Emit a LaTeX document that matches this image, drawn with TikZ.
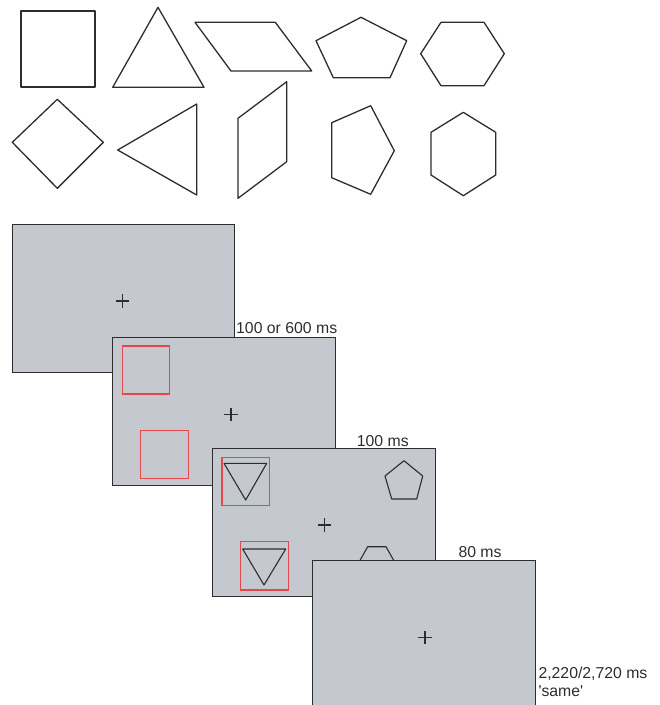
\documentclass[tikz,border=0pt]{standalone}
\usepackage{fontspec}
\setmainfont{Liberation Sans}
\newfontfamily\labelfont{Liberation Sans}
\definecolor{panel}{RGB}{198,200,208}
\definecolor{ink}{RGB}{45,45,45}
\definecolor{cue}{RGB}{228,72,72}
\tikzset{
  outline/.style={draw=ink, line width=1.3pt, line join=round},
  inner/.style={draw=ink, line width=1.1pt, line join=round},
  screen/.style={fill=panel, draw=ink, line width=1pt},
  cuebox/.style={draw=cue, line width=1.2pt},
  fixline/.style={draw=ink, line width=1.2pt},
  timing/.style={anchor=base west, inner sep=0pt, font=\labelfont\fontsize{15.8}{19}\selectfont, text=ink},
  fixcross/.pic={\draw[fixline] (-6.7,0) -- (6.7,0) (0,-6.7) -- (0,6.7);}
}
\begin{document}
\begin{tikzpicture}[x=1pt,y=-1pt]
\useasboundingbox (0,0) rectangle (660,705);
% ---- stimulus set, row 1
\draw[outline] (21,11) rectangle (95,87);
\draw[outline] (158,7.3) -- (204,87.3) -- (112.7,87.3) -- cycle;
\draw[outline] (195,22.3) -- (275.3,22.3) -- (311.7,71) -- (231,71) -- cycle;
\draw[outline] (361,17.3) -- (406.7,40.7) -- (390,77.7) -- (333.3,77.7) -- (316,40.7) -- cycle;
\draw[outline] (441,22.3) -- (484,22.3) -- (504.3,53.7) -- (484,85.7) -- (441,85.7) -- (420.7,53.7) -- cycle;
% ---- stimulus set, row 2
\draw[outline] (57.3,99.3) -- (103.3,142.3) -- (57.3,188.3) -- (12.3,142.3) -- cycle;
\draw[outline] (117.7,150) -- (196.7,104) -- (196.7,195) -- cycle;
\draw[outline] (286.7,81.7) -- (286.7,161.7) -- (238,198.3) -- (238,118.3) -- cycle;
\draw[outline] (370.7,105.7) -- (394.3,150.7) -- (370.7,194.3) -- (331.7,177.7) -- (331.7,122.7) -- cycle;
\draw[outline] (463.3,112.3) -- (495.7,132.3) -- (495.7,175) -- (463.3,195.7) -- (431,175) -- (431,132.3) -- cycle;
% ---- screen 1: fixation
\draw[screen] (12.3,224.3) rectangle (234.3,372.7);
\pic at (122.3,301) {fixcross};
% ---- screen 2: cues
\draw[screen] (112.3,337) rectangle (335.3,485);
\draw[cuebox] (122.3,346) rectangle (169.7,394);
\draw[cuebox] (140.7,430.3) rectangle (188.3,478.3);
\pic at (231,414.7) {fixcross};
% ---- screen 3: targets
\draw[screen] (212.7,448.3) rectangle (435.3,596.7);
\draw[cuebox] (222,457.3) rectangle (269.7,505.7);
\draw[inner] (224,463.3) -- (266.7,463.3) -- (245.7,500) -- cycle;
\draw[cuebox] (240.7,541.7) rectangle (288.3,590);
\draw[inner] (242.7,549) -- (285.7,549) -- (264,585) -- cycle;
\draw[inner] (404,460.7) -- (422.7,476) -- (416.7,499) -- (391.7,499) -- (385,476) -- cycle;
\draw[inner] (367.7,546.7) -- (386,546.7) -- (395,562.7) -- (386,578.7) -- (367.7,578.7) -- (358.7,562.7) -- cycle;
\pic at (324.3,525) {fixcross};
% ---- screen 4: mask / response
\draw[screen] (312.7,560.7) rectangle (535,708);
\pic at (425,637.7) {fixcross};
% ---- timing labels
\node[timing] (t1) at (236,333.3) {100 or 600 ms};
\node[timing] (t2) at (356.7,446) {100 ms};
\node[timing] (t3) at (458.3,557.3) {80 ms};
\node[timing] (t4) at (538.3,678.3) {2,220/2,720 ms};
\node[timing] (t5) at (538.3,696.7) {'same'};
\end{tikzpicture}
\end{document}
